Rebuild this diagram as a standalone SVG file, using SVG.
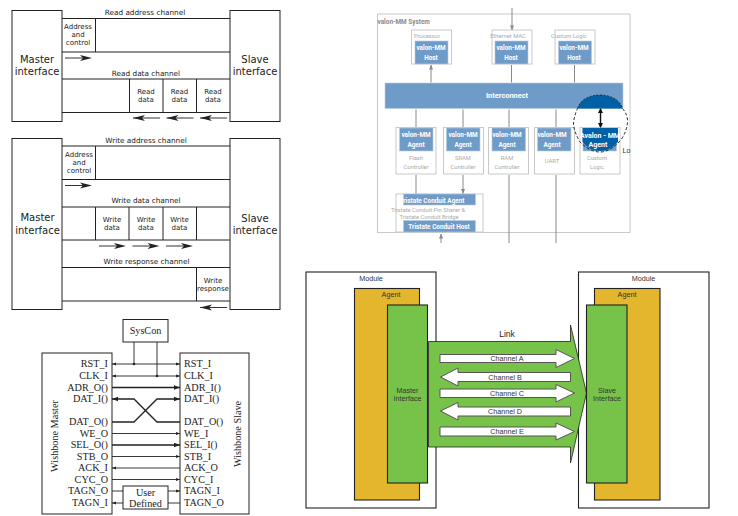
<svg xmlns="http://www.w3.org/2000/svg" width="738" height="516" viewBox="0 0 738 516">
<style>
.bg{fill:#fff}
.b{fill:#fff;stroke:#222;stroke-width:1}
.l{stroke:#222;stroke-width:1;fill:none}
.d{font-family:"DejaVu Sans",sans-serif;fill:#222;text-anchor:middle}
.t7{font-size:7.3px}
.t11{font-size:10px}
.t7s{font-size:7px}
.w{font-family:"Liberation Serif",serif;font-size:10.200px;fill:#222}
.e{text-anchor:end}
.m{text-anchor:middle}
.wl{stroke:#222;stroke-width:.9;fill:none}
.wt{stroke:#222;stroke-width:1.3;fill:none}
.ar{fill:#222;stroke:none}
.g{fill:#fff;stroke:#c9c9c9;stroke-width:1}
.bl{fill:#6f9bc8;stroke:#b9cbe0;stroke-width:.6}
.bt{font-family:Roboto,sans-serif;font-size:6.400px;font-weight:700;fill:#fff;text-anchor:middle}
.gt{font-family:Roboto,sans-serif;font-size:5.800px;fill:#aaa;text-anchor:middle}
.ga{stroke:#8a8a8a;stroke-width:1;fill:none;marker-start:url(#ga);marker-end:url(#ga)}
.gu{stroke:#8a8a8a;stroke-width:1;fill:none;marker-end:url(#ga)}
.mod{fill:#fff;stroke:#222;stroke-width:1.1}
.ag{fill:#e3b62d;stroke:#222;stroke-width:1.1}
.gr{fill:#77c34a;stroke:#222;stroke-width:1.1}
.ch{fill:#fff;stroke:#555;stroke-width:1}
.s{font-family:"Liberation Sans",sans-serif;font-size:7.200px;fill:#333;text-anchor:middle}
</style>
<defs>
<marker id="ga" viewBox="0 0 6 6" refX="5.500" refY="3" markerWidth="5" markerHeight="5" orient="auto-start-reverse"><path d="M0 .5L6 3L0 5.500z" fill="#8a8a8a"/></marker>
</defs>
<rect class="bg" width="738" height="516"/>

<g id="read-master"><rect class="b" x="12" y="10.500" width="50" height="111"/><text class="d t11" x="37" y="63">Master</text><text class="d t11" x="37" y="75">interface</text></g>
<g id="read-slave"><rect class="b" x="230" y="10.500" width="50" height="111"/><text class="d t11" x="255" y="63">Slave</text><text class="d t11" x="255" y="75">interface</text></g>
<g id="read-address-channel">
<text class="d t7" x="145" y="14.500">Read address channel</text>
<path class="l" d="M62 18.500H230M62 52H230M95.500 18.500V52"/>
<text class="d t7s" x="78" y="29">Address</text><text class="d t7s" x="78" y="37">and</text><text class="d t7s" x="78" y="45">control</text>
</g>
<g id="read-data-channel">
<text class="d t7" x="146" y="75.500">Read data channel</text>
<path class="l" d="M62 79H230M62 112.500H230M129.500 79V112.500M163 79V112.500M196.500 79V112.500"/>
<text class="d t7s" x="146" y="94">Read</text><text class="d t7s" x="146" y="102">data</text>
<text class="d t7s" x="179.500" y="94">Read</text><text class="d t7s" x="179.500" y="102">data</text>
<text class="d t7s" x="213" y="94">Read</text><text class="d t7s" x="213" y="102">data</text>
</g>

<g id="write-master"><rect class="b" x="12" y="138.500" width="50" height="171"/><text class="d t11" x="37.500" y="221">Master</text><text class="d t11" x="37.500" y="234">interface</text></g>
<g id="write-slave"><rect class="b" x="230" y="138.500" width="50" height="171"/><text class="d t11" x="255" y="222">Slave</text><text class="d t11" x="255" y="234">interface</text></g>
<g id="write-address-channel">
<text class="d t7" x="146" y="142.500">Write address channel</text>
<path class="l" d="M62 146H230M62 179.500H230M95.500 146V179.500"/>
<text class="d t7s" x="79" y="157">Address</text><text class="d t7s" x="79" y="165">and</text><text class="d t7s" x="79" y="173">control</text>
</g>
<g id="write-data-channel">
<text class="d t7" x="146" y="203">Write data channel</text>
<path class="l" d="M62 207H230M62 240H230M95.500 207V240M129 207V240M163 207V240M196.500 207V240"/>
<text class="d t7s" x="112" y="221.500">Write</text><text class="d t7s" x="112" y="230">data</text>
<text class="d t7s" x="146" y="221.500">Write</text><text class="d t7s" x="146" y="230">data</text>
<text class="d t7s" x="179.500" y="221.500">Write</text><text class="d t7s" x="179.500" y="230">data</text>
</g>
<g id="write-response-channel">
<text class="d t7" x="146.500" y="264">Write response channel</text>
<path class="l" d="M62 267.500H230M62 301H230M196.500 267.500V301"/>
<text class="d t7s" x="213" y="282.500">Write</text><text class="d t7s" x="213" y="291">response</text>
</g>

<g id="channel-arrows">
<g stroke="#333" stroke-width="1" fill="none">
<path d="M65 58H85M65 185.500H85M99 246H119M132.500 246H152.500M166 246H186M133 118H160M166.500 118H193.500M200 118H227M200 307.500H227"/>
</g>
<g class="ar">
<path d="M92 58L80 55L83 58L80 61z"/><path d="M92 185.500L80 182.500L83 185.500L80 188.500z"/>
<path d="M126 246L114 243L117 246L114 249z"/><path d="M159.500 246L147.500 243L150.500 246L147.500 249z"/><path d="M193 246L181 243L184 246L181 249z"/>
<path d="M133 118L145 115L142 118L145 121z"/><path d="M166.500 118L178.500 115L175.500 118L178.500 121z"/><path d="M200 118L212 115L209 118L212 121z"/><path d="M200 307.500L212 304.500L209 307.500L212 310.500z"/>
</g>
</g>

<g id="avalon-system"><rect x="377.500" y="14" width="252.500" height="218.500" fill="#fff" stroke="#c9c9c9" stroke-width="1"/><text x="377.500" y="23.500" font-family="Roboto,sans-serif" font-size="6.400" font-weight="700" fill="#8a8a8a">valon-MM System</text></g>
<g id="avalon-processor"><rect class="g" x="411.500" y="30" width="40" height="34"/><text class="gt" x="427" y="37.500">Processor</text><rect class="bl" x="415" y="41" width="33" height="23"/><text class="bt" x="431" y="50">valon-MM</text><text class="bt" x="431" y="59.500">Host</text></g>
<g id="avalon-ethernet"><rect class="g" x="492" y="30" width="40" height="34"/><text class="gt" x="508" y="37.500">Ethernet MAC</text><rect class="bl" x="495" y="41" width="33" height="23"/><text class="bt" x="511" y="50">valon-MM</text><text class="bt" x="511" y="59.500">Host</text></g>
<g id="avalon-custom-host"><rect class="g" x="555" y="30" width="40" height="34"/><text class="gt" x="569" y="37.500">Custom Logic</text><rect class="bl" x="558.500" y="41" width="33" height="23"/><text class="bt" x="574" y="50">valon-MM</text><text class="bt" x="574" y="59.500">Host</text></g>
<g id="avalon-interconnect"><rect x="385" y="83" width="238" height="25.500" fill="#6f9bc8" stroke="#b9cbe0" stroke-width=".6"/><text x="507" y="98" font-family="Roboto,sans-serif" font-size="7.400px" font-weight="700" fill="#fff" text-anchor="middle">Interconnect</text></g>
<g id="avalon-flash"><rect class="g" x="396" y="127.500" width="40" height="46.500"/><rect class="bl" x="399.500" y="128" width="33.500" height="23"/><text class="bt" x="416" y="137">valon-MM</text><text class="bt" x="416" y="146.500">Agent</text><text class="gt" x="416" y="160">Flash</text><text class="gt" x="416" y="169">Controller</text></g>
<g id="avalon-sram"><rect class="g" x="443.500" y="127.500" width="40" height="46.500"/><rect class="bl" x="446.500" y="128" width="33.500" height="23"/><text class="bt" x="463" y="137">valon-MM</text><text class="bt" x="463" y="146.500">Agent</text><text class="gt" x="463" y="160">SRAM</text><text class="gt" x="463" y="169">Controller</text></g>
<g id="avalon-ram"><rect class="g" x="488.500" y="127.500" width="40" height="46.500"/><rect class="bl" x="492" y="128" width="33.500" height="23"/><text class="bt" x="507" y="137">valon-MM</text><text class="bt" x="507" y="146.500">Agent</text><text class="gt" x="507" y="160">RAM</text><text class="gt" x="507" y="169">Controller</text></g>
<g id="avalon-uart"><rect class="g" x="534.500" y="127.500" width="40" height="46.500"/><rect class="bl" x="537.500" y="128" width="33.500" height="23"/><text class="bt" x="552" y="137">valon-MM</text><text class="bt" x="552" y="146.500">Agent</text><text class="gt" x="552" y="163">UART</text></g>
<g id="avalon-custom-agent"><rect class="g" x="580" y="127.500" width="40" height="46.500"/><rect class="bl" x="583" y="128" width="33.500" height="23"/><text class="gt" x="597" y="160">Custom</text><text class="gt" x="597" y="169">Logic</text></g>
<g id="avalon-tristate"><rect class="g" x="396" y="194" width="87" height="38"/><rect class="bl" x="403.500" y="194" width="72" height="11"/><text class="bt" x="432" y="202.500">Tristate Conduit Agent</text><text class="gt" x="428" y="211.500">Tristate Conduit Pin Sharer &amp;</text><text class="gt" x="429" y="219">Tristate Conduit Bridge</text><rect class="bl" x="403.500" y="220.500" width="72" height="11.500"/><text class="bt" x="439" y="228.500">Tristate Conduit Host</text></g>
<g id="avalon-connectors">
<path class="gu" d="M512 8V30"/>
<path class="ga" d="M431 65V82.500M511.500 65V82.500M574.500 65V82.500M416 109.500V127M463 109.500V127M509 109.500V127M556 109.500V127M416 175V193.500M463 175V193.500"/>
<path class="gu" d="M509 243V175M556 243V175M441 243V234"/>
</g>
<g id="avalon-highlight">
<path d="M577.500 108.500Q582 95.500 600 95Q618 95.500 622.500 108.500z" fill="#0060a6"/>
<path d="M582.500 128H618V142Q610 151 600 151Q590 151 582.500 142z" fill="#0060a6"/>
<path d="M577.500 108.500Q582 95.500 600 95Q618 95.500 622.500 108.500" fill="none" stroke="#111" stroke-width=".7" stroke-dasharray="2 1.500"/>
<path d="M622.500 108.500Q628 115 627.500 122Q627 131 621 140Q610 152 600 152Q590 152 580 142Q574 132 573.500 124Q574 116 577.500 108.500" fill="none" stroke="#111" stroke-width=".9" stroke-dasharray="3 2"/>
<path d="M600.500 109V127" stroke="#111" stroke-width="1.400" fill="none"/>
<path d="M600.500 108L598 113H603zM600.500 128L598 123H603z" fill="#111"/>
<text x="600" y="137.500" font-family="Roboto,sans-serif" font-size="7" font-weight="700" fill="#fff" text-anchor="middle">Avalon - MM</text>
<text x="598" y="147" font-family="Roboto,sans-serif" font-size="7" font-weight="700" fill="#fff" text-anchor="middle">Agent</text>
<text x="622.500" y="153" font-family="Liberation Sans,sans-serif" font-size="7px" fill="#333">Lo</text>
</g>

<g id="wishbone-syscon"><rect class="b" x="123" y="319.500" width="45" height="22.500"/><text class="w m" x="145.500" y="334">SysCon</text></g>
<g id="wishbone-master"><rect class="b" x="42" y="353" width="70" height="161"/>
<text class="w" transform="translate(58 436) rotate(-90)" text-anchor="middle">Wishbone Master</text>
<g class="w e" text-anchor="end"><text x="108" y="367">RST_I</text><text x="108" y="379">CLK_I</text><text x="108" y="390.500">ADR_O()</text><text x="108" y="402">DAT_I()</text><text x="108" y="425">DAT_O()</text><text x="108" y="436.500">WE_O</text><text x="108" y="448">SEL_O()</text><text x="108" y="459.500">STB_O</text><text x="108" y="471">ACK_I</text><text x="108" y="482.500">CYC_O</text><text x="108" y="494">TAGN_O</text><text x="108" y="506">TAGN_I</text></g></g>
<g id="wishbone-slave"><rect class="b" x="180" y="353" width="69" height="161"/>
<text class="w" transform="translate(241 434) rotate(-90)" text-anchor="middle">Wishbone Slave</text>
<g class="w"><text x="184" y="367">RST_I</text><text x="184" y="379">CLK_I</text><text x="184" y="390.500">ADR_I()</text><text x="184" y="402">DAT_I()</text><text x="184" y="425">DAT_O()</text><text x="184" y="436.500">WE_I</text><text x="184" y="448">SEL_I()</text><text x="184" y="459.500">STB_I</text><text x="184" y="471">ACK_O</text><text x="184" y="482.500">CYC_I</text><text x="184" y="494">TAGN_I</text><text x="184" y="506">TAGN_O</text></g></g>
<g id="wishbone-user"><rect class="b" x="123" y="486" width="45" height="23"/><text class="w m" x="145.500" y="495.500">User</text><text class="w m" x="145.500" y="507">Defined</text></g>
<g id="wishbone-connectors">
<path class="wl" d="M134 342V364M157 342V376M112 364H180M112 376H180M112 433.500H180M112 456.500H180M112 468H180M112 479.500H180M112 491H123M168 491H180M112 503H123M168 503H180"/>
<path class="wt" d="M112 387.500H180M112 445H180M112 399H134L157 422H180M180 399H157L134 422H112"/>
<g class="ar">
<circle cx="134" cy="364" r="1.300"/><circle cx="157" cy="376" r="1.300"/>
<path d="M112 364l4 -1.500v3zM180 364l-4 -1.500v3zM112 376l4 -1.500v3zM180 376l-4 -1.500v3z"/>
<path d="M180 387.500l-6 -2.200v4.400zM112 399l6 -2.200v4.400zM180 399l-6 -2.200v4.400zM180 433.500l-4 -1.500v3zM180 445l-6 -2.200v4.400zM180 456.500l-4 -1.500v3zM112 468l4 -1.500v3zM180 479.500l-4 -1.500v3zM180 491l-4 -1.500v3zM112 503l4 -1.500v3z"/>
</g>
</g>

<g id="module-left"><rect class="mod" x="306" y="272" width="130" height="236"/><text class="s" x="371" y="281">Module</text></g>
<g id="agent-left"><rect class="ag" x="354.500" y="288.500" width="65" height="211.500"/><text class="s" x="391" y="297">Agent</text></g>
<g id="module-right"><rect class="mod" x="578.500" y="272" width="130.500" height="236"/><text class="s" x="643.500" y="281">Module</text></g>
<g id="agent-right"><rect class="ag" x="594.500" y="288.500" width="65.500" height="211.500"/><text class="s" x="627" y="297">Agent</text></g>
<g id="link">
<path d="M428.500 341.500H570.500V325L586.500 393L570.500 463V447H428.500z" fill="#77c34a" stroke="#222" stroke-width=".8"/>
<text x="507" y="337" font-family="Liberation Sans,sans-serif" font-size="8.500px" fill="#222" text-anchor="middle">Link</text>
</g>
<g id="channel-a"><path class="ch" d="M440 354.500H556V349.500L574.500 358.500L556 367.500V362.500H440z"/><text class="s" x="507" y="361">Channel A</text></g>
<g id="channel-b"><path class="ch" d="M440.500 377L458 368V372.500H570.500V381.500H458V386z"/><text class="s" x="505" y="380">Channel B</text></g>
<g id="channel-c"><path class="ch" d="M440 389H556V384.500L574.500 393L556 402V397.500H440z"/><text class="s" x="507" y="396">Channel C</text></g>
<g id="channel-d"><path class="ch" d="M440.500 411L458 402.500V407H570.500V416H458V420z"/><text class="s" x="505" y="414">Channel D</text></g>
<g id="channel-e"><path class="ch" d="M440 427H556V423L574.500 431.500L556 440V436H440z"/><text class="s" x="507" y="434">Channel E</text></g>
<g id="master-interface"><rect class="gr" x="387.500" y="305" width="40" height="178"/><text class="s" x="407.500" y="393">Master</text><text class="s" x="407.500" y="401">Interface</text></g>
<g id="slave-interface"><rect class="gr" x="586.500" y="305" width="40.500" height="178"/><text class="s" x="607" y="393">Slave</text><text class="s" x="607" y="401">Interface</text></g>
</svg>
